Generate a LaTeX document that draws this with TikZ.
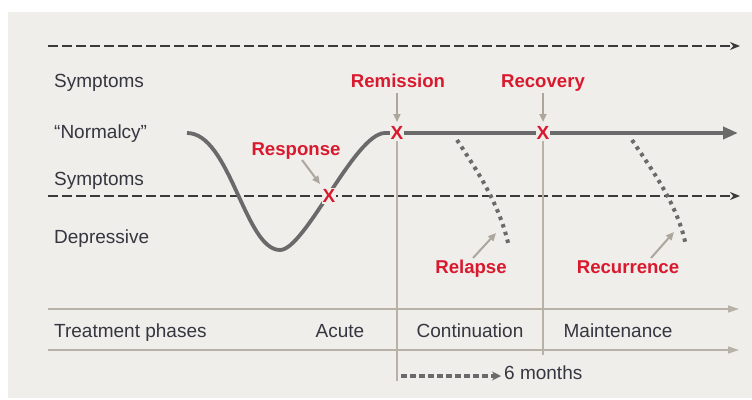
\documentclass[tikz,border=0pt]{standalone}
\usepackage{fontspec}
\setmainfont{Liberation Sans}
\usetikzlibrary{arrows.meta}
\definecolor{bg}{HTML}{EFEEEB}
\definecolor{dk}{HTML}{3A3A3A}
\definecolor{ln}{HTML}{6A6A6A}
\definecolor{redone}{HTML}{D9192E}
\definecolor{thin}{HTML}{B8B1A8}
\definecolor{pointer}{HTML}{ADA69C}
\definecolor{txt}{HTML}{363640}
\begin{document}
\begin{tikzpicture}[x=1pt,y=-1pt,
  lbl/.style={font=\fontsize{19}{21}\selectfont, text=txt, inner sep=0pt},
  redlbl/.style={font=\fontsize{18.6}{20}\selectfont\bfseries, text=redone, inner sep=0pt},
  xmark/.style={font=\fontsize{19}{20}\selectfont\bfseries, text=redone, fill=bg, inner sep=1pt},
  dashline/.style={draw=dk, line width=1.8pt, dash pattern=on 10pt off 4pt, -{Stealth[length=10pt,width=8pt]}},
  mainline/.style={draw=ln, line width=3.8pt, -{Triangle[length=15pt,width=12pt]}},
  dotline/.style={draw=ln, line width=4pt, dash pattern=on 3.5pt off 4.5pt},
  thinarrow/.style={draw=thin, line width=1.3pt, -{Triangle[length=11pt,width=7pt]}},
  thinline/.style={draw=thin, line width=1.3pt},
  pointarrow/.style={draw=pointer, line width=2pt, -{Triangle[length=8pt,width=7pt]}},
  sixm/.style={draw=ln, line width=3.5pt, dash pattern=on 6pt off 3pt, -{Stealth[length=9pt,width=9pt]}}
]
\useasboundingbox (0,0) rectangle (752,399);
\fill[white] (0,0) rectangle (752,399);
\fill[bg] (8,12) rectangle (752,398);

% coordinates
\coordinate (d1s) at (48,46);
\coordinate (d1e) at (740,46);
\coordinate (d2s) at (48,196);
\coordinate (d2e) at (740,196);
\coordinate (c0) at (187,133);
\coordinate (cmin) at (280,250);
\coordinate (c1) at (385,133);
\coordinate (cend) at (738,133);
\coordinate (t1s) at (48,309);
\coordinate (t1e) at (739,309);
\coordinate (t2s) at (48,350);
\coordinate (t2e) at (739,350);
\coordinate (v1t) at (397,133);
\coordinate (v1b) at (397,381);
\coordinate (v2t) at (543,133);
\coordinate (v2b) at (543,355);
\coordinate (r1s) at (457,140);
\coordinate (r1e) at (509,247);
\coordinate (r2s) at (632,140);
\coordinate (r2e) at (686,246);
\coordinate (sms) at (401,376);
\coordinate (sme) at (501,376);

% dashed symptom borders
\draw[dashline] (d1s) -- (d1e);
\draw[dashline] (d2s) -- (d2e);

% treatment lines
\draw[thinarrow] (t1s) -- (t1e);
\draw[thinarrow] (t2s) -- (t2e);
\draw[thinline] (v1t) -- (v1b);
\draw[thinline] (v2t) -- (v2b);

% main course
\draw[mainline] (c0) .. controls (230,133) and (245,250) .. (cmin)
  .. controls (305,250) and (355,133) .. (c1) -- (cend);

% relapse / recurrence
\draw[dotline] (r1s) .. controls (478,172) and (500,205) .. (r1e);
\draw[dotline] (r2s) .. controls (652,170) and (678,205) .. (r2e);

% X marks
\node[xmark] (xresp) at (329,196) {X};
\node[xmark] (xrem) at (397,133) {X};
\node[xmark] (xrec) at (543,133) {X};

% left labels
\node[lbl, anchor=base west] (sy1) at (54,87) {Symptoms};
\node[lbl, anchor=base west] (norm) at (54,138) {“Normalcy”};
\node[lbl, anchor=base west] (sy2) at (54,185) {Symptoms};
\node[lbl, anchor=base west] (dep) at (54,243) {Depressive};
\node[lbl, anchor=base west] (tp) at (54,337) {Treatment phases};
\node[lbl, anchor=base] (acute) at (340,337) {Acute};
\node[lbl, anchor=base] (cont) at (470,337) {Continuation};
\node[lbl, anchor=base] (maint) at (618,337) {Maintenance};

% red labels
\node[redlbl, anchor=base] (rem) at (398,87) {Remission};
\node[redlbl, anchor=base] (rec) at (543,87) {Recovery};
\node[redlbl, anchor=base] (resp) at (296,155) {Response};
\node[redlbl, anchor=base] (rel) at (471,273) {Relapse};
\node[redlbl, anchor=base] (recur) at (628,273) {Recurrence};

% pointers
\coordinate (p1s) at (397,93);  \coordinate (p1e) at (397,122);
\coordinate (p2s) at (543,93);  \coordinate (p2e) at (543,122);
\coordinate (p3s) at (302,160); \coordinate (p3e) at (320,184);
\coordinate (p4s) at (473,258); \coordinate (p4e) at (496,233);
\coordinate (p5s) at (651,258); \coordinate (p5e) at (674,232);
\draw[pointarrow] (p1s) -- (p1e);
\draw[pointarrow] (p2s) -- (p2e);
\draw[pointarrow] (p3s) -- (p3e);
\draw[pointarrow] (p4s) -- (p4e);
\draw[pointarrow] (p5s) -- (p5e);

% 6 months
\draw[sixm] (sms) -- (sme);
\node[lbl, anchor=base west] (six) at (504,379) {6 months};
\end{tikzpicture}
\end{document}
